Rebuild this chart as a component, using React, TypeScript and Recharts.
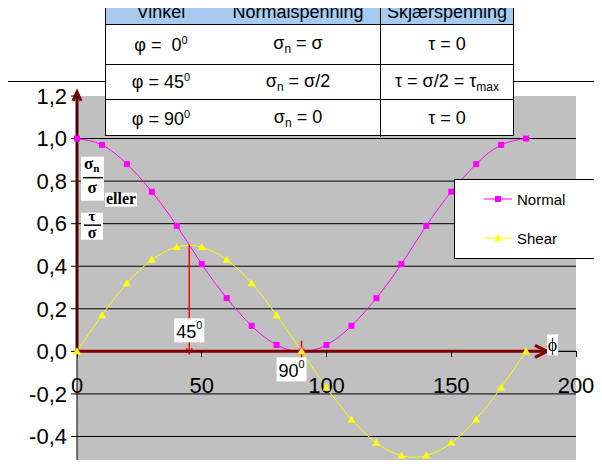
import React from "react";
import {
  LineChart,
  Line,
  XAxis,
  YAxis,
  CartesianGrid,
  ReferenceLine,
  ReferenceDot,
  Legend,
} from "recharts";

const SANS = '"Liberation Sans", Arial, sans-serif';
const SERIF = '"Liberation Serif", "Times New Roman", serif';

// angle in degrees
const ANGLES = [0, 10, 20, 30, 40, 50, 60, 70, 80, 90, 100, 110, 120, 130, 140, 150, 160, 170, 180];
const NORMAL = [1.0, 0.97, 0.88, 0.75, 0.59, 0.41, 0.25, 0.12, 0.03, 0.0, 0.03, 0.12, 0.25, 0.41, 0.59, 0.75, 0.88, 0.97, 1.0];
const SHEAR = [0, 0.17, 0.32, 0.43, 0.49, 0.49, 0.43, 0.32, 0.17, 0, -0.17, -0.32, -0.43, -0.49, -0.49, -0.43, -0.32, -0.17, 0];

const X_TICKS = [0, 50, 100, 150, 200];
const Y_TICKS = [-0.4, -0.2, 0, 0.2, 0.4, 0.6, 0.8, 1.0, 1.2];
const GRID_VALUES = [-0.4, -0.2, 0, 0.2, 0.4, 0.6, 0.8, 1.0];

const TABLE_HEAD = ["Vinkel", "Normalspenning", "Skjærspenning"];
const TABLE_ANGLE = ["\u00a00", "45", "90"];
const TABLE_NORMAL = ["σ", "σ/2", "0"];

const data = ANGLES.map((a, i) => ({ angle: a, normal: NORMAL[i], shear: SHEAR[i] }));

const MAGENTA = "#FF00FF";
const YELLOW = "#FFFF00";
const DARKRED = "#800000";
const RED = "#FF0000";

const squareDot = (p: any) => (
  <rect key={`n${p.index}`} x={p.cx - 3} y={p.cy - 3} width={6} height={6} fill={MAGENTA} />
);
const triangleDot = (p: any) => (
  <polygon
    key={`s${p.index}`}
    points={`${p.cx},${p.cy - 4} ${p.cx + 4},${p.cy + 3} ${p.cx - 4},${p.cy + 3}`}
    fill={YELLOW}
  />
);

function Arrow({ x1, y1, x2, y2, color, width, head, half }: any) {
  const dx = x2 - x1;
  const dy = y2 - y1;
  const len = Math.hypot(dx, dy) || 1;
  const ux = dx / len;
  const uy = dy / len;
  const bx = x2 - ux * head;
  const by = y2 - uy * head;
  const px = -uy * half;
  const py = ux * half;
  return (
    <g>
      <line x1={x1} y1={y1} x2={x2} y2={y2} stroke={color} strokeWidth={width} />
      <polyline
        points={`${bx + px},${by + py} ${x2},${y2} ${bx - px},${by - py}`}
        fill="none"
        stroke={color}
        strokeWidth={width}
      />
    </g>
  );
}

const xTickShape = (v: number) => (p: any) => (
  <g>
    <line x1={p.cx} y1={p.cy} x2={p.cx} y2={p.cy + 6} stroke="#000" shapeRendering="crispEdges" />
    <text x={p.cx} y={p.cy + 42} textAnchor="middle" fontSize={22} fontFamily={SANS} fill="#000">
      {v}
    </text>
  </g>
);

const degTag = (label: string, dx: number, dy: number) => (p: any) => (
  <g>
    <rect x={p.cx + dx} y={p.cy + dy} width={30} height={24} fill="#fff" />
    <text x={p.cx + dx + 2} y={p.cy + dy + 20} fontSize={18} fontFamily={SANS} fill="#000">
      {label}
      <tspan dy={-9} fontSize={11}>0</tspan>
    </text>
  </g>
);

const phiTag = (p: any) => (
  <g>
    <rect x={p.cx} y={p.cy - 17} width={11} height={21} fill="#fff" />
    <text x={p.cx + 5.5} y={p.cy} textAnchor="middle" fontSize={18} fontFamily={SERIF} fill="#000">
      ϕ
    </text>
  </g>
);

// y-axis title: sigma_n / sigma  eller  tau / sigma
const axisTitle = (p: any) => {
  const x = p.cx;
  const y = p.cy;
  const t = { fontFamily: SERIF, fontWeight: 700, fill: "#000" } as const;
  return (
    <g>
      <rect x={x + 4} y={y - 67} width={23} height={44} fill="#fff" />
      <text x={x + 7} y={y - 55} fontSize={17} {...t}>
        σ<tspan fontSize={11} dy={3}>n</tspan>
      </text>
      <line x1={x + 6} x2={x + 26} y1={y - 46} y2={y - 46} stroke="#000" strokeWidth={1.5} />
      <text x={x + 15} y={y - 31} fontSize={17} textAnchor="middle" {...t}>σ</text>
      <rect x={x + 28} y={y - 31} width={32} height={14} fill="#fff" />
      <text x={x + 29} y={y - 20} fontSize={16} {...t}>eller</text>
      <rect x={x + 4} y={y - 11} width={22} height={27} fill="#fff" />
      <text x={x + 15} y={y - 3} fontSize={15} textAnchor="middle" {...t}>τ</text>
      <line x1={x + 7} x2={x + 24} y1={y + 1.5} y2={y + 1.5} stroke="#000" strokeWidth={1.5} />
      <text x={x + 15} y={y + 14} fontSize={16} textAnchor="middle" {...t}>σ</text>
    </g>
  );
};

const renderLegend = (props: any) => {
  const payload = props.payload || [];
  return (
    <div
      style={{
        width: 143,
        height: 80,
        boxSizing: "border-box",
        border: "1px solid #000",
        background: "#fff",
        position: "relative",
        fontFamily: SANS,
        fontSize: 15,
        color: "#000",
      }}
    >
      {payload.map((e: any, i: number) => (
        <div
          key={e.value}
          style={{ position: "absolute", left: 0, top: i === 0 ? 9 : 48, height: 20, display: "flex", alignItems: "center" }}
        >
          <svg width={62} height={20}>
            <line x1={29} x2={57} y1={10} y2={10} stroke={e.color} />
            {e.dataKey === "normal"
              ? squareDot({ cx: 43, cy: 10, index: "l" })
              : triangleDot({ cx: 43, cy: 10, index: "l" })}
          </svg>
          <span>{e.value}</span>
        </div>
      ))}
    </div>
  );
};

function Table() {
  const cols = [110, 164, 133];
  const rowHeights = [38, 34, 37];
  const cell = (w: number, content: React.ReactNode, divider: boolean, key: string) => (
    <div
      key={key}
      style={{
        width: w,
        display: "flex",
        alignItems: "center",
        justifyContent: "center",
        borderLeft: divider ? "1px solid #000" : "none",
        boxSizing: "border-box",
        whiteSpace: "pre",
      }}
    >
      {content}
    </div>
  );
  const sup = (s: string) => <sup style={{ fontSize: 11, verticalAlign: 7 }}>{s}</sup>;
  const sub = (s: string) => <sub style={{ fontSize: 12, verticalAlign: -4 }}>{s}</sub>;
  const shearCell = (i: number) =>
    i === 1 ? <span>τ = σ/2 = τ{sub("max")}</span> : <span>τ = 0</span>;
  return (
    <div
      style={{
        position: "absolute",
        left: 105,
        top: 0,
        width: 409,
        height: 136,
        boxSizing: "border-box",
        border: "1px solid #000",
        borderTop: "none",
        background: "#fff",
        fontFamily: SANS,
        fontSize: 18,
        color: "#000",
        zIndex: 5,
      }}
    >
      <div
        style={{
          display: "flex",
          height: 24,
          background: "#A6CAF0",
          borderBottom: "1px solid #000",
          lineHeight: "24px",
        }}
      >
        {TABLE_HEAD.map((h, i) => cell(cols[i], h, i === 2, h))}
      </div>
      {rowHeights.map((h, i) => (
        <div key={i} style={{ display: "flex", height: i === 0 ? h + 1 : h, borderBottom: i < 2 ? "1px solid #000" : "none" }}>
          {cell(cols[0], <span>φ = {TABLE_ANGLE[i]}{sup("0")}</span>, false, "a")}
          {cell(cols[1], <span>σ{sub("n")} = {TABLE_NORMAL[i]}</span>, false, "b")}
          {cell(cols[2], shearCell(i), true, "c")}
        </div>
      ))}
    </div>
  );
}

export default function App() {
  return (
    <div style={{ position: "relative", width: 602, height: 468, margin: -8, background: "#fff", overflow: "hidden" }}>
      <div
        style={{
          position: "absolute",
          left: 3,
          top: 81,
          width: 596,
          height: 384,
          boxSizing: "border-box",
          border: "1px solid #000",
        }}
      />
      <div style={{ position: "absolute", left: 0, top: 0 }}>
        <LineChart width={602} height={468} data={data} margin={{ top: 96, right: 26, bottom: 6, left: 0 }}>
          <CartesianGrid fill="#C0C0C0" stroke="#000" vertical={false} horizontalValues={GRID_VALUES} />
          <XAxis dataKey="angle" type="number" domain={[0, 200]} ticks={X_TICKS} hide />
          <YAxis
            type="number"
            domain={[-0.52, 1.2]}
            allowDataOverflow
            ticks={Y_TICKS}
            width={77}
            tickSize={6}
            tickMargin={4}
            stroke="#000"
            tick={{ fontSize: 22, fill: "#000", fontFamily: SANS }}
            tickFormatter={(v: number) => v.toFixed(1).replace(".", ",")}
          />
          <Line
            dataKey="normal"
            name="Normal"
            type="natural"
            stroke={MAGENTA}
            strokeWidth={1}
            dot={squareDot}
            activeDot={false}
            isAnimationActive={false}
          />
          <Line
            dataKey="shear"
            name="Shear"
            type="natural"
            stroke={YELLOW}
            strokeWidth={1}
            dot={triangleDot}
            activeDot={false}
            isAnimationActive={false}
          />
          <ReferenceLine y={0} stroke="#000" ifOverflow="visible" />
          {X_TICKS.map((v) => (
            <ReferenceDot key={v} x={v} y={0} ifOverflow="visible" shape={xTickShape(v)} />
          ))}
          <ReferenceLine
            segment={[{ x: 45, y: 0.5 }, { x: 45, y: -0.01 }]}
            ifOverflow="visible"
            shape={(p: any) => <Arrow {...p} color={RED} width={1.5} head={5} half={3} />}
          />
          <ReferenceLine
            segment={[{ x: 90, y: 0.05 }, { x: 90, y: -0.03 }]}
            ifOverflow="visible"
            shape={(p: any) => <Arrow {...p} color={RED} width={1.5} head={0} half={0} />}
          />
          <ReferenceLine
            segment={[{ x: 0, y: 0 }, { x: 188.4, y: 0 }]}
            ifOverflow="visible"
            shape={(p: any) => <Arrow {...p} color={DARKRED} width={3} head={12} half={6} />}
          />
          <ReferenceLine
            segment={[{ x: 0, y: 0 }, { x: 0, y: 1.219 }]}
            ifOverflow="visible"
            shape={(p: any) => <Arrow {...p} color={DARKRED} width={3} head={9} half={4} />}
          />
          <ReferenceDot x={45} y={0} ifOverflow="visible" shape={degTag("45", -15, -33)} />
          <ReferenceDot x={90} y={0} ifOverflow="visible" shape={degTag("90", -25, 6)} />
          <ReferenceDot x={188.4} y={0} ifOverflow="visible" shape={phiTag} />
          <ReferenceDot x={0} y={0.6} ifOverflow="visible" shape={axisTitle} />
          <Legend
            layout="vertical"
            align="center"
            verticalAlign="middle"
            wrapperStyle={{ left: 454, top: 179, width: 143, height: 80 }}
            content={renderLegend}
          />
        </LineChart>
      </div>
      <Table />
    </div>
  );
}
